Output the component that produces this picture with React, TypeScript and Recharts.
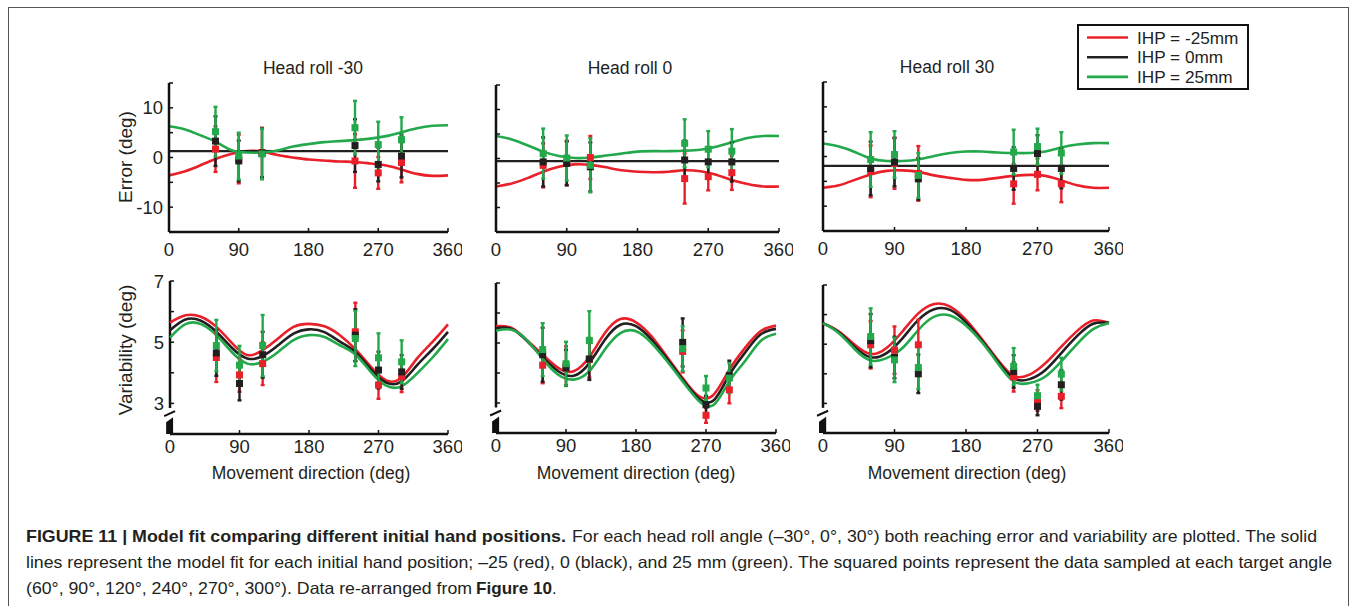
import React from 'react';
import {
  ComposedChart,
  Line,
  Scatter,
  ErrorBar,
  XAxis,
  YAxis,
  ReferenceLine,
  ReferenceArea,
} from 'recharts';

const fitAngles = [0, 20, 40, 60, 80, 100, 120, 140, 160, 180, 200, 220, 240, 260, 280, 300, 320, 340, 360];
const targetAngles = [60, 90, 120, 240, 270, 300];
const dirTicks = [0, 90, 180, 270, 360];
const errorTicks = [-15, -10, -5, 0, 5, 10, 15];
const errorTickLabels = [-10, 0, 10];
const varTicks = [3, 4, 5, 6, 7];
const varTickLabels = [3, 5, 7];

const headRolls = ['Head roll -30', 'Head roll 0', 'Head roll 30'];
const ihpLabels = ['IHP = -25mm', 'IHP = 0mm', 'IHP = 25mm'];
const ihpColors = ['#e9202a', '#231f20', '#23a94b'];

// error fits (deg); IHP = 0 is flat in every head roll
const errFitNeg30Red = [-3.6, -2.8, -1.6, -0.3, 0.7, 1.3, 1.2, 0.5, 0.0, -0.4, -0.6, -0.8, -0.9, -1.2, -1.6, -2.4, -3.3, -3.7, -3.6];
const errFitNeg30Green = [6.3, 5.7, 4.5, 3.2, 1.5, 1.0, 1.0, 1.4, 2.2, 2.7, 3.1, 3.3, 3.5, 3.8, 4.3, 5.1, 5.9, 6.4, 6.5];
const errFit0Red = [-5.7, -5.1, -4.0, -2.7, -1.7, -1.2, -1.3, -1.8, -2.4, -2.7, -2.8, -2.7, -2.4, -2.6, -3.3, -4.4, -5.2, -5.7, -5.7];
const errFit0Green = [4.6, 3.9, 2.7, 1.4, 0.5, 0.1, 0.2, 0.6, 1.0, 1.4, 1.5, 1.5, 1.6, 1.8, 2.4, 3.3, 4.2, 4.6, 4.6];
const errFit30Red = [-6.3, -5.8, -4.7, -3.6, -2.9, -2.8, -3.1, -3.8, -4.3, -4.7, -4.7, -4.3, -3.9, -3.7, -3.9, -4.8, -5.8, -6.3, -6.3];
const errFit30Green = [2.6, 2.0, 0.9, -0.4, -0.9, -0.9, -0.6, 0.1, 0.7, 1.0, 1.0, 0.8, 0.7, 0.7, 1.0, 1.8, 2.4, 2.7, 2.7];
const errFitZeroIhp = [1.3, -0.55, -1.9];

// variability fits (deg)
const varFitNeg30Red = [5.64, 5.88, 5.83, 5.5, 4.98, 4.58, 4.74, 5.12, 5.5, 5.6, 5.52, 5.23, 4.77, 4.2, 3.75, 3.85, 4.47, 5.01, 5.58];
const varFitNeg30Black = [5.39, 5.74, 5.7, 5.34, 4.82, 4.47, 4.55, 4.9, 5.28, 5.42, 5.33, 5.02, 4.68, 4.12, 3.68, 3.72, 4.25, 4.77, 5.34];
const varFitNeg30Green = [5.15, 5.59, 5.59, 5.23, 4.68, 4.3, 4.36, 4.68, 5.07, 5.23, 5.17, 4.9, 4.6, 4.03, 3.58, 3.56, 3.98, 4.5, 5.1];
const varFit0Red = [5.56, 5.5, 5.09, 4.61, 4.17, 4.06, 4.53, 5.33, 5.8, 5.69, 5.22, 4.53, 3.83, 3.24, 3.28, 4.11, 4.83, 5.39, 5.58];
const varFit0Black = [5.5, 5.47, 5.06, 4.53, 4.06, 3.91, 4.33, 5.11, 5.61, 5.56, 5.11, 4.47, 3.78, 3.17, 3.09, 3.94, 4.67, 5.28, 5.47];
const varFit0Green = [5.41, 5.44, 5.09, 4.47, 3.94, 3.78, 4.06, 4.78, 5.33, 5.39, 5.0, 4.39, 3.72, 3.09, 2.94, 3.72, 4.39, 5.06, 5.31];
const varFit30Red = [5.71, 5.43, 4.98, 4.67, 4.87, 5.43, 6.04, 6.36, 6.27, 5.82, 5.17, 4.47, 3.93, 3.97, 4.36, 4.92, 5.45, 5.8, 5.72];
const varFit30Black = [5.71, 5.4, 4.9, 4.56, 4.7, 5.2, 5.82, 6.18, 6.16, 5.74, 5.12, 4.42, 3.85, 3.82, 4.13, 4.7, 5.28, 5.69, 5.72];
const varFit30Green = [5.71, 5.37, 4.83, 4.45, 4.53, 4.87, 5.48, 5.93, 5.97, 5.63, 5.07, 4.36, 3.74, 3.69, 3.91, 4.42, 5.01, 5.51, 5.72];

// sampled data: rows are red, black, green; bars are half lengths
const errMeanNeg30 = [
  [1.7, -0.3, 1.0, -0.7, -3.1, -1.0],
  [3.3, -0.7, 0.9, 2.4, -1.4, 0.3],
  [5.2, 0.3, 0.7, 6.0, 2.6, 3.6],
];
const errBarNeg30 = [
  [4.6, 4.9, 5.0, 5.4, 3.2, 4.0],
  [5.0, 4.1, 4.9, 5.3, 3.4, 4.3],
  [5.0, 4.7, 5.1, 5.4, 4.6, 4.5],
];
const errMean0 = [
  [-1.4, -0.9, 0.2, -4.1, -3.7, -2.9],
  [-0.7, -1.0, -1.7, -0.3, -0.7, -0.7],
  [1.0, 0.1, -1.4, 3.1, 1.9, 1.5],
];
const errBar0 = [
  [4.5, 4.5, 4.4, 5.1, 2.8, 3.5],
  [5.0, 4.5, 5.0, 4.0, 3.0, 4.0],
  [5.1, 4.6, 5.5, 4.9, 3.7, 4.5],
];
const errMean30 = [
  [-3.0, -1.4, -3.4, -5.5, -3.6, -5.5],
  [-2.4, -1.1, -4.5, -2.4, 0.6, -2.4],
  [-0.6, 0.4, -3.8, 0.9, 2.0, 0.7],
];
const errBar30 = [
  [5.2, 5.1, 5.5, 4.0, 3.2, 3.7],
  [5.4, 4.9, 4.2, 4.3, 3.7, 4.0],
  [5.5, 4.7, 4.5, 4.5, 3.6, 4.2],
];
const varMeanNeg30 = [
  [4.5, 3.93, 4.3, 5.34, 3.6, 3.87],
  [4.65, 3.65, 4.59, 5.23, 4.09, 4.03],
  [4.89, 4.25, 4.89, 5.12, 4.49, 4.36],
];
const varBarNeg30 = [
  [0.8, 0.55, 0.7, 0.95, 0.45, 0.5],
  [0.75, 0.55, 0.75, 0.85, 0.6, 0.55],
  [0.84, 0.63, 1.0, 0.9, 0.8, 0.7],
];
const varMean0 = [
  [4.26, 4.24, 4.45, 4.72, 2.59, 3.44],
  [4.61, 4.17, 4.47, 5.02, 2.94, 3.91],
  [4.78, 4.31, 5.08, 4.81, 3.5, 3.83],
];
const varBar0 = [
  [0.6, 0.65, 0.6, 0.7, 0.25, 0.45],
  [0.9, 0.6, 0.7, 0.8, 0.3, 0.5],
  [0.88, 0.73, 0.98, 0.75, 0.4, 0.5],
];
const varMean30 = [
  [4.98, 4.8, 4.98, 3.9, 3.1, 3.24],
  [5.12, 4.55, 4.0, 4.08, 2.9, 3.63],
  [5.26, 4.47, 4.21, 4.25, 3.26, 3.99],
];
const varBar30 = [
  [0.8, 0.8, 0.85, 0.5, 0.35, 0.4],
  [0.9, 0.7, 0.65, 0.55, 0.3, 0.5],
  [0.95, 0.75, 0.72, 0.62, 0.37, 0.55],
];

const INK = '#231f20';
const FONT = '"Liberation Sans", Arial, Helvetica, sans-serif';

type Box = { left: number; top: number; w: number; h: number };

const squareShape = (color: string) => (p: any) =>
  p.cx == null ? <g /> : <rect x={p.cx - 3.5} y={p.cy - 3.5} width={7} height={7} fill={color} />;

// the little "//" break at the bottom of the variability axes
const BreakMark = (p: any) => {
  const { x, y, width, height } = p;
  const b = y + height;
  return (
    <g>
      <polygon points={`${x},${b} ${x + width},${b} ${x + width},${y} ${x},${y + 5}`} fill="#111" />
      <line x1={x - 2} y1={y - 1} x2={x + width + 2} y2={y - 6} stroke="#111" strokeWidth={2} />
    </g>
  );
};

function Panel({
  box,
  variability,
  fits,
  flat,
  means,
  bars,
  showYLabels,
  xTickMargin,
}: {
  box: Box;
  variability: boolean;
  fits: (number[] | null)[];
  flat?: number;
  means: number[][];
  bars: number[][];
  showYLabels: boolean;
  xTickMargin: number;
}) {
  const ml = 60;
  const mr = 14;
  const mt = 12;
  const xh = 36;
  const domain = variability ? [2, 7] : [-15, 15];
  const ticks = variability ? varTicks : errorTicks;
  const labelled = variability ? varTickLabels : errorTickLabels;

  const curves = fits.map((f) =>
    f
      ? f.map((v, i) => ({ x: fitAngles[i], y: v }))
      : [
          { x: 0, y: flat as number },
          { x: 360, y: flat as number },
        ]
  );
  const points = means.map((row, k) => row.map((m, i) => ({ x: targetAngles[i], y: m, e: bars[k][i] })));

  return (
    <div style={{ position: 'absolute', left: box.left - ml, top: box.top - mt }}>
      <ComposedChart
        width={box.w + ml + mr}
        height={box.h + mt + xh}
        margin={{ top: mt, right: mr, bottom: 0, left: 0 }}
      >
        <XAxis
          type="number"
          dataKey="x"
          domain={[0, 360]}
          ticks={dirTicks}
          interval={0}
          height={xh}
          tickSize={-4}
          tickMargin={xTickMargin}
          axisLine={{ stroke: '#111', strokeWidth: 2.5 }}
          tickLine={{ stroke: '#111', strokeWidth: 1.5 }}
          tick={{ fill: INK, fontSize: 18.5, fontFamily: FONT }}
        />
        <YAxis
          type="number"
          dataKey="y"
          domain={domain}
          ticks={ticks}
          interval={0}
          width={ml}
          tickSize={-4}
          tickMargin={10}
          allowDataOverflow
          axisLine={variability ? false : { stroke: '#111', strokeWidth: 2.5 }}
          tickLine={{ stroke: '#111', strokeWidth: 1.5 }}
          tick={{ fill: INK, fontSize: 18.5, fontFamily: FONT }}
          tickFormatter={(v: number) => (showYLabels && labelled.includes(v) ? String(v) : '')}
        />
        {variability && (
          <ReferenceLine
            segment={[
              { x: 0, y: 7 },
              { x: 0, y: 2.85 },
            ]}
            stroke="#111"
            strokeWidth={2.5}
            ifOverflow="visible"
          />
        )}
        {variability && (
          <ReferenceArea x1={-5} x2={4} y1={2} y2={2.55} ifOverflow="visible" shape={BreakMark} />
        )}
        {curves.map((c, k) => (
          <Line
            key={`fit-${k}`}
            data={c}
            dataKey="y"
            type={fits[k] ? 'natural' : 'linear'}
            stroke={ihpColors[k]}
            strokeWidth={k === 1 && !fits[k] ? 2.2 : 2.6}
            dot={false}
            activeDot={false}
            isAnimationActive={false}
          />
        ))}
        {points.map((pts, k) => (
          <Scatter
            key={`pts-${k}`}
            data={pts}
            dataKey="y"
            fill={ihpColors[k]}
            shape={squareShape(ihpColors[k])}
            isAnimationActive={false}
          >
            <ErrorBar
              dataKey="e"
              direction="y"
              width={2}
              strokeWidth={2.4}
              stroke={ihpColors[k]}
              isAnimationActive={false}
            />
          </Scatter>
        ))}
      </ComposedChart>
    </div>
  );
}

const topBoxes: Box[] = [
  { left: 169, top: 83, w: 279, h: 149 },
  { left: 496, top: 85, w: 283, h: 147 },
  { left: 823, top: 82, w: 286, h: 149 },
];
const bottomBoxes: Box[] = [
  { left: 170, top: 281, w: 278, h: 153 },
  { left: 496, top: 283, w: 280, h: 150 },
  { left: 823, top: 285, w: 286, h: 148 },
];
const titlePos = [
  { x: 313, y: 68 },
  { x: 630, y: 68 },
  { x: 947, y: 67 },
];
const xTitleX = [311, 636, 967];

export default function App() {
  const errFits = [
    [errFitNeg30Red, null, errFitNeg30Green],
    [errFit0Red, null, errFit0Green],
    [errFit30Red, null, errFit30Green],
  ];
  const errMeans = [errMeanNeg30, errMean0, errMean30];
  const errBars = [errBarNeg30, errBar0, errBar30];
  const varFits = [
    [varFitNeg30Red, varFitNeg30Black, varFitNeg30Green],
    [varFit0Red, varFit0Black, varFit0Green],
    [varFit30Red, varFit30Black, varFit30Green],
  ];
  const varMeans = [varMeanNeg30, varMean0, varMean30];
  const varBars = [varBarNeg30, varBar0, varBar30];

  return (
    <div
      style={{
        position: 'absolute',
        left: 0,
        top: 0,
        width: 1356,
        height: 606,
        overflow: 'hidden',
        background: '#fff',
        fontFamily: FONT,
      }}
    >
      <svg width={1356} height={606} style={{ position: 'absolute', left: 0, top: 0 }} fontFamily={FONT}>
        <rect x={8.5} y={7.5} width={1340} height={640} fill="none" stroke="#555" strokeWidth={1} />

        {headRolls.map((t, i) => (
          <text key={t} x={titlePos[i].x} y={titlePos[i].y} textAnchor="middle" dominantBaseline="central" fontSize={17.5} fill={INK}>
            {t}
          </text>
        ))}

        <text transform="translate(125,157) rotate(-90)" textAnchor="middle" dominantBaseline="central" fontSize={19} fill={INK}>
          Error (deg)
        </text>
        <text transform="translate(125,350) rotate(-90)" textAnchor="middle" dominantBaseline="central" fontSize={19} fill={INK}>
          Variability (deg)
        </text>

        {xTitleX.map((x) => (
          <text key={x} x={x} y={473} textAnchor="middle" dominantBaseline="central" fontSize={17.5} fill={INK}>
            Movement direction (deg)
          </text>
        ))}

        <rect x={1078} y={25} width={170} height={64} fill="#fff" stroke="#111" strokeWidth={2} />
        {ihpLabels.map((l, i) => {
          const y = 37.5 + i * 19.7;
          return (
            <g key={l}>
              <line x1={1087} x2={1128} y1={y} y2={y} stroke={ihpColors[i]} strokeWidth={2.6} />
              <text x={1137} y={y} dominantBaseline="central" fontSize={17.2} fill={INK}>
                {l}
              </text>
            </g>
          );
        })}

        <g fill={INK} fontSize={16.5}>
          <text x={26} y={541.5} fontWeight="bold" textLength={540} lengthAdjust="spacingAndGlyphs">
            FIGURE 11 | Model fit comparing different initial hand positions.
          </text>
          <text x={572} y={541.5} textLength={745} lengthAdjust="spacingAndGlyphs">
            For each head roll angle (–30°, 0°, 30°) both reaching error and variability are plotted. The solid
          </text>
          <text x={26} y={568} textLength={1306} lengthAdjust="spacingAndGlyphs">
            lines represent the model fit for each initial hand position; –25 (red), 0 (black), and 25 mm (green). The squared points represent the data sampled at each target angle
          </text>
          <text x={26} y={594} textLength={446} lengthAdjust="spacingAndGlyphs">
            (60°, 90°, 120°, 240°, 270°, 300°). Data re-arranged from
          </text>
          <text x={476} y={594} fontWeight="bold" textLength={76} lengthAdjust="spacingAndGlyphs">
            Figure 10
          </text>
          <text x={552} y={594}>
            .
          </text>
        </g>
      </svg>

      {topBoxes.map((b, i) => (
        <Panel
          key={`err-${i}`}
          box={b}
          variability={false}
          fits={errFits[i]}
          flat={errFitZeroIhp[i]}
          means={errMeans[i]}
          bars={errBars[i]}
          showYLabels={i === 0}
          xTickMargin={15}
        />
      ))}
      {bottomBoxes.map((b, i) => (
        <Panel
          key={`var-${i}`}
          box={b}
          variability
          fits={varFits[i]}
          means={varMeans[i]}
          bars={varBars[i]}
          showYLabels={i === 0}
          xTickMargin={10}
        />
      ))}
    </div>
  );
}
